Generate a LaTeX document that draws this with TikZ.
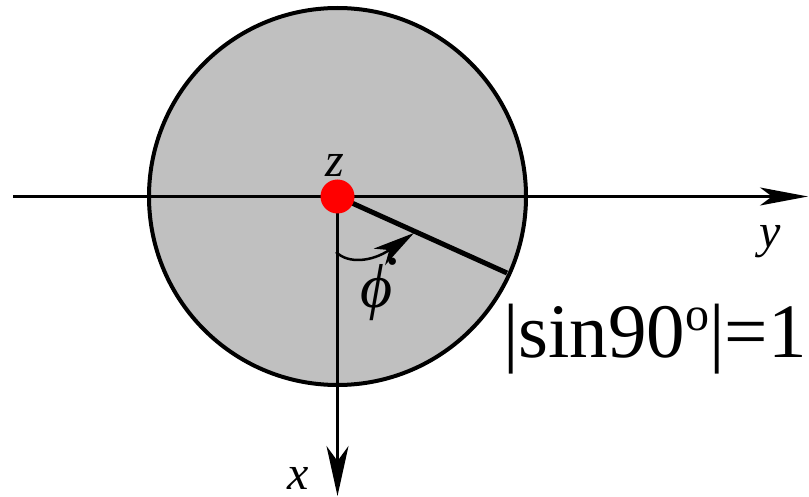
\documentclass[tikz,border=0pt]{standalone}
\usepackage{fontspec}
\setmainfont{Liberation Serif}
\newfontfamily\tnr{Liberation Serif}
\usetikzlibrary{arrows.meta}
\definecolor{discgray}{RGB}{192,192,192}
\begin{document}
\begin{tikzpicture}[x=1pt,y=-1pt,
  axis/.style={line width=2.5pt},
  lab/.style={font=\tnr\itshape\fontsize{48}{48}\selectfont, inner sep=0pt, anchor=base}]
\useasboundingbox (0,0) rectangle (809,497);
\coordinate (O) at (337.5,196.5);
\node[circle, draw, line width=4pt, fill=discgray, minimum size=377pt, inner sep=0pt] (disc) at (O) {};
\coordinate (L) at (13,196.5);
\coordinate (R) at (808,196.5);
\coordinate (B) at (337.5,496);
\coordinate (P) at (507,273);
\coordinate (A1) at (336,252);
\coordinate (A2) at (414,233);
\draw[axis, -{Stealth[length=48pt,width=18pt,inset=12pt]}] (L) -- (R);
\draw[axis, -{Stealth[length=50pt,width=22pt,inset=15pt]}] (O) -- (B);
\draw[line width=5pt] (O) -- (P);
\node[circle, fill=red, minimum size=34pt, inner sep=0pt] (dot) at (O) {};
\draw[line width=2.5pt, -{Stealth[length=42pt,width=20pt,inset=12pt]}] (A1) .. controls (348,264) and (372,262) .. (A2);
\node[inner sep=0pt, anchor=base, font=\tnr\itshape\fontsize{62}{62}\selectfont] (phi) at (377,308) {\makebox[0pt][l]{\hspace{0.42em}\raisebox{0.7em}{.}}ϕ};
\node[lab] (zl) at (335,177) {z};
\node[lab] (yl) at (770,248) {y};
\node[lab] (xl) at (298,489) {x};
\node[anchor=base west, inner sep=0pt, font=\tnr\fontsize{77}{77}\selectfont] (s) at (503,357) {|sin90\raisebox{27pt}{\fontsize{48}{48}\selectfont o}|=1};
\end{tikzpicture}
\end{document}
